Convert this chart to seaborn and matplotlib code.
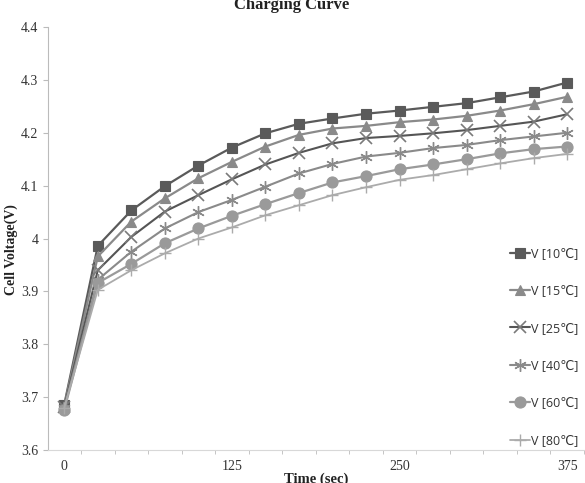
import matplotlib
matplotlib.use("Agg")
import matplotlib.pyplot as plt
import seaborn as sns
from matplotlib.ticker import FixedLocator, FuncFormatter

time_sec = [0, 25, 50, 75, 100, 125, 150, 175, 200, 225, 250, 275, 300, 325, 350, 375]

v_10 = [3.686, 3.986, 4.053, 4.099, 4.138, 4.172, 4.199, 4.217, 4.227, 4.236, 4.242, 4.249, 4.256, 4.267, 4.278, 4.295]
v_15 = [3.684, 3.966, 4.032, 4.076, 4.114, 4.145, 4.174, 4.196, 4.208, 4.213, 4.220, 4.225, 4.232, 4.242, 4.254, 4.268]
v_25 = [3.682, 3.940, 4.003, 4.051, 4.082, 4.112, 4.140, 4.162, 4.180, 4.190, 4.194, 4.199, 4.205, 4.213, 4.221, 4.235]
v_40 = [3.680, 3.922, 3.975, 4.019, 4.050, 4.073, 4.098, 4.123, 4.141, 4.155, 4.162, 4.171, 4.177, 4.186, 4.193, 4.200]
v_60 = [3.676, 3.916, 3.952, 3.991, 4.019, 4.043, 4.065, 4.086, 4.106, 4.118, 4.131, 4.140, 4.150, 4.161, 4.169, 4.174]
v_80 = [3.680, 3.903, 3.940, 3.972, 4.000, 4.021, 4.044, 4.063, 4.082, 4.097, 4.111, 4.120, 4.131, 4.142, 4.152, 4.160]

series_labels = ["V [10\u2103]", "V [15\u2103]", "V [25\u2103]", "V [40\u2103]", "V [60\u2103]", "V [80\u2103]"]
x_tick_values = [0, 125, 250, 375]
y_tick_values = [3.6, 3.7, 3.8, 3.9, 4.0, 4.1, 4.2, 4.3, 4.4]

sns.set_style("white")
plt.rcParams["font.family"] = ["Liberation Serif", "DejaVu Serif"]

fig = plt.figure(figsize=(5.85, 4.83), dpi=100)
ax = fig.add_axes([0.0812, 0.0683, 0.917, 0.8758])

styles = [
    dict(marker="s", color="#5a5a5a", mfc="#5a5a5a", mec="#5a5a5a", ms=7, lw=1.6),
    dict(marker="^", color="#8a8a8a", mfc="#8a8a8a", mec="#8a8a8a", ms=7.5, lw=1.6),
    dict(marker="x", color="#555555", mfc="#7a7a7a", mec="#7a7a7a", ms=8, lw=1.5, mew=1.2),
    dict(marker=(6, 2, 0), color="#8a8a8a", mfc="#8a8a8a", mec="#8a8a8a", ms=9, lw=1.5, mew=1.0),
    dict(marker="o", color="#9a9a9a", mfc="#9a9a9a", mec="#9a9a9a", ms=8, lw=1.6),
    dict(marker="+", color="#ababab", mfc="#ababab", mec="#ababab", ms=9, lw=1.3, mew=1.0),
]

for vals, lab, st in zip([v_10, v_15, v_25, v_40, v_60, v_80], series_labels, styles):
    sns.lineplot(x=time_sec, y=vals, ax=ax, label=lab, color=st["color"],
                 marker=st["marker"], markersize=st["ms"], linewidth=st["lw"],
                 markerfacecolor=st["mfc"], markeredgecolor=st["mec"],
                 markeredgewidth=st.get("mew", 0.8))

ax.set_xlim(-12.5, 387.5)
ax.set_ylim(3.6, 4.4)
ax.xaxis.set_major_locator(FixedLocator(x_tick_values))
ax.xaxis.set_minor_locator(FixedLocator([12.5 + 25 * i for i in range(16)]))
ax.yaxis.set_major_locator(FixedLocator(y_tick_values))
ax.yaxis.set_major_formatter(FuncFormatter(lambda v, p: "%g" % round(v, 1)))
ax.tick_params(axis="x", which="major", length=0, pad=7, labelsize=10, labelcolor="#333333")
ax.tick_params(axis="x", which="minor", length=3, color="#bbbbbb", direction="out", bottom=True)
ax.tick_params(axis="y", which="major", length=3.5, color="#bbbbbb", direction="out", left=True,
               labelsize=10, labelcolor="#333333", pad=3)

for s in ["top", "right"]:
    ax.spines[s].set_visible(False)
ax.spines["left"].set_color("#bbbbbb")
ax.spines["bottom"].set_color("#d8d8d8")
ax.spines["left"].set_linewidth(0.8)
ax.spines["bottom"].set_linewidth(0.8)
ax.grid(False)

fig.text(11 / 585, 1 - 250 / 483, "Cell Voltage(V)", rotation=90, ha="center", va="center",
         fontsize=10, fontweight="bold", color="#222222")
fig.text(316 / 585, 1 - 479 / 483, "Time (sec)", ha="center", va="center",
         fontsize=10.5, fontweight="bold", color="#222222")
fig.text(292 / 585, 1 - 5 / 483, "Charging Curve", ha="center", va="center",
         fontsize=12, fontweight="bold", color="#222222")

leg = ax.legend(loc="upper left", bbox_to_anchor=(505 / 585, 1 - 242 / 483),
                bbox_transform=fig.transFigure, frameon=False,
                prop={"family": ["Open Sans", "DejaVu Sans"], "size": 9},
                handlelength=1.6, handletextpad=0.1, labelspacing=1.95, borderaxespad=0)
for t in leg.get_texts():
    t.set_color("#333333")

fig.savefig("out.png", dpi=100)
